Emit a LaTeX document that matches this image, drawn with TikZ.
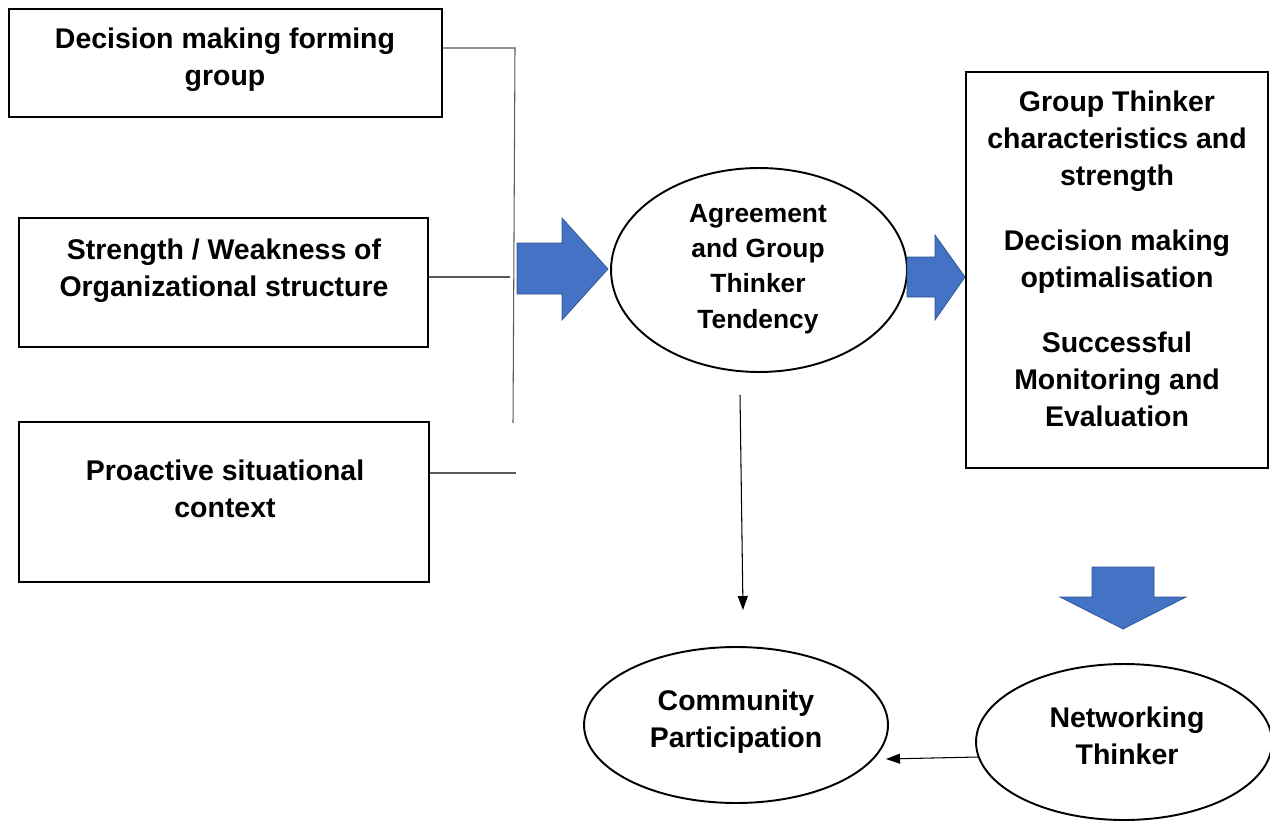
\documentclass[tikz,border=0pt]{standalone}
\usepackage{fontspec}
\setmainfont{Liberation Sans}
\usetikzlibrary{shapes.geometric,arrows.meta}
\definecolor{arrowblue}{RGB}{68,114,196}
\definecolor{arrowedge}{RGB}{47,82,143}
\definecolor{linkgray}{RGB}{90,90,90}

\begin{document}
\begin{tikzpicture}[x=0.02cm,y=-0.02cm,
    box/.style={draw, line width=1.1pt, rectangle, inner sep=0pt},
    oval/.style={draw, line width=1.1pt, ellipse, inner sep=0pt},
    txt/.style={align=center, inner sep=0pt, font=\fontsize{16.2}{21}\selectfont\bfseries},
    smalltxt/.style={txt, font=\fontsize{15}{20}\selectfont\bfseries},
    link/.style={draw=linkgray, line width=0.6pt},
    fat/.style={fill=arrowblue, draw=arrowedge, line width=0.4pt}]
    \useasboundingbox (0,0) rectangle (1270,821);

    % Left boxes
    \node[box, minimum width=8.66cm, minimum height=2.16cm] (b1) at (225.5,63) {};
    \node[box, minimum width=8.18cm, minimum height=2.58cm] (b2) at (223.5,282.5) {};
    \node[box, minimum width=8.2cm, minimum height=3.2cm] (b3) at (224,502) {};
    \node[txt] (t1) at (225,60) {Decision making forming\\group};
    \node[txt] (t2) at (224,271) {Strength / Weakness of\\Organizational structure};
    \node[txt] (t3) at (225,489) {Proactive situational\\context};

    % Bracket joining the left boxes
    \coordinate (j1) at (515,48);
    \coordinate (j2) at (510,277);
    \coordinate (j3) at (516,473);
    \coordinate (j4) at (513,423);
    \draw[link] (b1.east |- j1) -- (j1) -- (j4);
    \draw[link] (b2.east |- j2) -- (j2);
    \draw[link] (b3.east |- j3) -- (j3);

    % Centre ellipse
    \node[oval, minimum width=5.92cm, minimum height=4.08cm] (agree) at (759,270) {};
    \node[smalltxt] (agreeTxt) at (758,269) {Agreement\\and Group\\Thinker\\Tendency};

    % Right box
    \node[box, minimum width=6.04cm, minimum height=7.92cm] (res) at (1117,270) {};
    \node[txt] (resTxt) at (1117,259) {Group Thinker\\characteristics and\\strength\\[16pt]
        Decision making\\optimalisation\\[16pt]
        Successful\\Monitoring and\\Evaluation};

    % Lower ellipses
    \node[oval, minimum width=6.08cm, minimum height=3.12cm] (comm) at (736,725) {};
    \node[txt] (commTxt) at (736,722) {Community\\Participation};
    \node[oval, minimum width=5.92cm, minimum height=3.12cm] (net) at (1124,742) {};
    \node[txt] (netTxt) at (1127,736) {Networking\\Thinker};

    % Block arrows
    \filldraw[fat] (517,243) -- (562,243) -- (562,218) -- (608,269) -- (562,320)
        -- (562,294) -- (517,294) -- cycle;
    \filldraw[fat] (907,257) -- (935,257) -- (935,235) -- (965,277) -- (935,320)
        -- (935,297) -- (907,297) -- cycle;
    \filldraw[fat] (1092,567) -- (1154,567) -- (1154,597) -- (1186,597) -- (1123,629)
        -- (1060,597) -- (1092,597) -- cycle;

    % Thin arrows
    \coordinate (d1) at (740,395);
    \coordinate (d2) at (743,610);
    \coordinate (n1) at (978,757);
    \coordinate (c1) at (886,759);
    \draw[line width=0.6pt, -{Triangle[length=0.28cm,width=0.2cm]}] (d1) -- (d2);
    \draw[line width=0.6pt, -{Triangle[length=0.28cm,width=0.2cm]}] (n1) -- (c1);
\end{tikzpicture}
\end{document}
